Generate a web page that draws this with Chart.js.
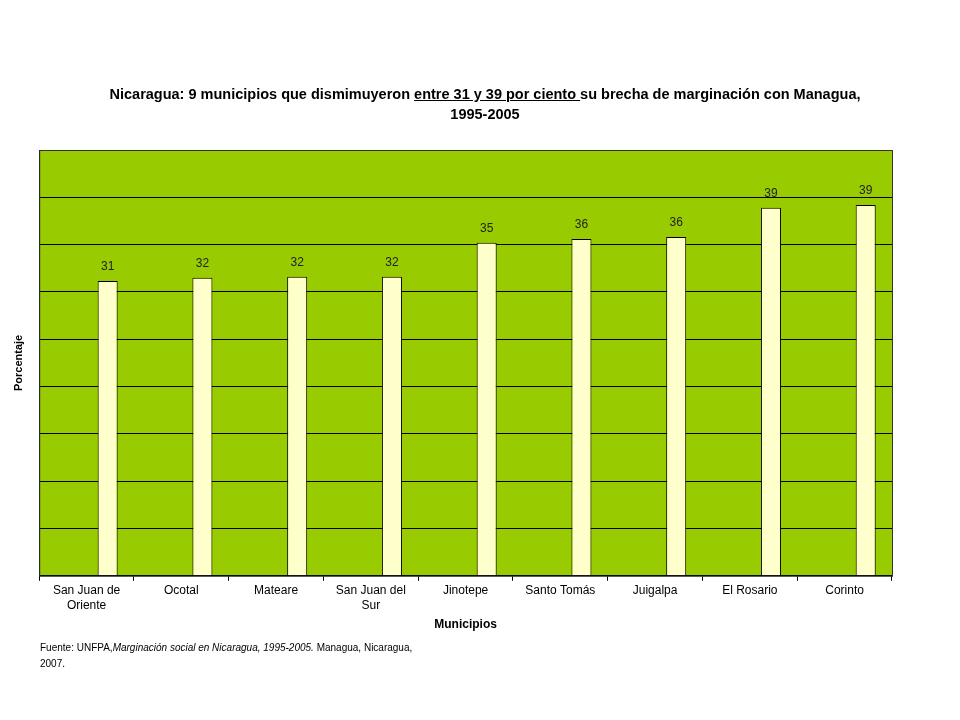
<!DOCTYPE html>
<html><head><meta charset="utf-8">
<script src="https://cdn.jsdelivr.net/npm/chart.js@4"></script>
<style>
body{margin:0;background:#fff;font-family:"Liberation Sans",Arial,sans-serif;}
#wrap{position:relative;width:960px;height:720px;}
#title{position:absolute;left:95px;width:780px;top:84px;text-align:center;font-weight:bold;font-size:14.5px;line-height:20px;color:#000;}
#foot{position:absolute;left:40px;top:640px;font-size:10px;line-height:16px;color:#000;width:400px;}
canvas{position:absolute;left:0;top:0;}
</style></head><body>
<div id="wrap">
<canvas id="c" width="960" height="720"></canvas>
<div id="title">Nicaragua: 9 municipios que dismimuyeron <u> entre 31 y 39 por ciento </u> su brecha de marginación con Managua, 1995-2005</div>
<div id="foot">Fuente: UNFPA,<i>Marginación social en Nicaragua, 1995-2005.</i> Managua, Nicaragua, 2007.</div>
</div>
<script>
const categories = [["San Juan de","Oriente"],"Ocotal","Mateare",["San Juan del","Sur"],"Jinotepe","Santo Tomás","Juigalpa","El Rosario","Corinto"];
const values = [31.15, 31.5, 31.6, 31.6, 35.2, 35.6, 35.8, 38.9, 39.2];
const valueLabels = ["31","32","32","32","35","36","36","39","39"];
const yMax = 45, yStep = 5;

const bgPlugin = {
  id:'bg',
  beforeDraw(ch){const a=ch.chartArea,c=ch.ctx;c.save();c.fillStyle='#99CC00';c.fillRect(a.left,a.top,a.right-a.left,a.bottom-a.top);c.restore();},
  afterDatasetsDraw(ch){const c=ch.ctx;const m=ch.getDatasetMeta(1);c.save();c.fillStyle='#222';c.font='12px "Liberation Sans", Arial';c.textAlign='center';
    m.data.forEach((b,i)=>{c.fillText(valueLabels[i],b.x,b.y-11);});
    const a=ch.chartArea;c.strokeStyle='#333';c.lineWidth=1;c.strokeRect(a.left+0.5,a.top+0.5,a.right-a.left,a.bottom-a.top);c.restore();}
};
new Chart(document.getElementById('c'),{
  type:'bar',
  data:{labels:categories,datasets:[
    {data:categories.map(()=>null),barPercentage:0.475,categoryPercentage:0.89},
    {data:values,backgroundColor:'#FFFFCC',borderColor:'#000',borderWidth:1,barPercentage:0.475,categoryPercentage:0.89}]},
  options:{responsive:false,animation:false,
    layout:{padding:{left:8,right:68,top:150,bottom:84}},
    plugins:{legend:{display:false},tooltip:{enabled:false}},
    scales:{
      x:{grid:{drawOnChartArea:false,offset:true,tickLength:5,color:'#000'},border:{color:'#000'},
        ticks:{color:'#000',font:{size:12,family:'"Liberation Sans", Arial'},maxRotation:0,autoSkip:false},
        title:{display:true,text:'Municipios',color:'#000',font:{size:12,weight:'bold',family:'"Liberation Sans", Arial'},padding:{top:2}}},
      y:{min:0,max:yMax,ticks:{stepSize:yStep,display:false},grid:{color:'#000',drawTicks:false},border:{color:'#000'},
        title:{display:true,text:'Porcentaje',color:'#000',font:{size:11,weight:'bold',family:'"Liberation Sans", Arial'},padding:{bottom:14}}}
    }},
  plugins:[bgPlugin]
});
</script>
</body></html>
